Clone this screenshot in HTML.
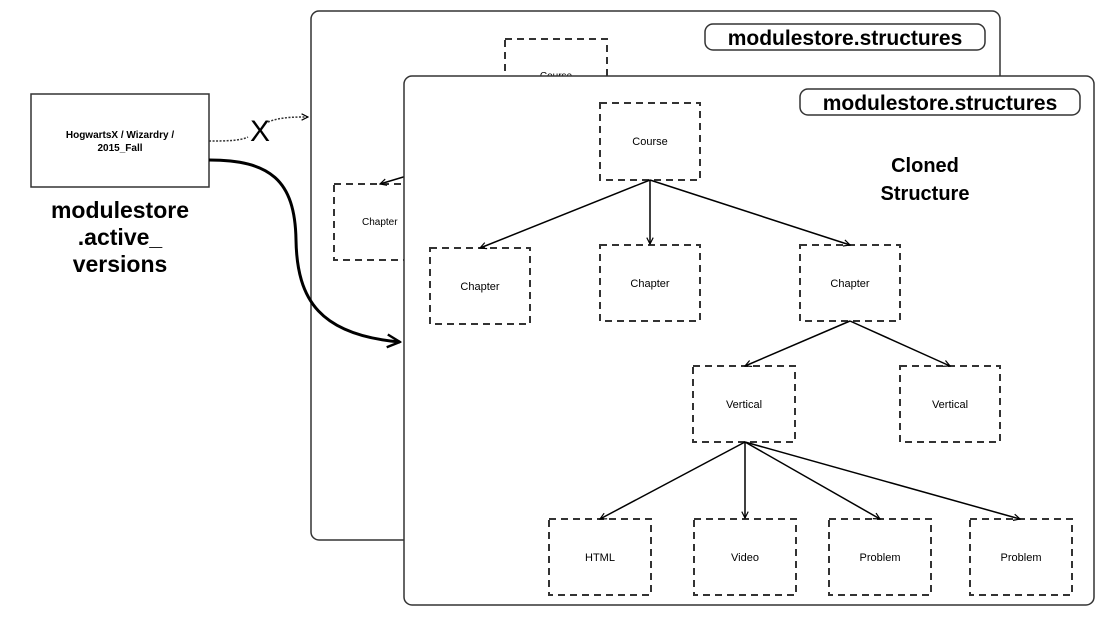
<!DOCTYPE html>
<html><head><meta charset="utf-8"><style>
html,body{margin:0;padding:0;background:#fff}
svg{display:block}
text{font-family:"Liberation Sans",Arial,sans-serif;fill:#000}
</style></head><body>
<svg width="1114" height="626" viewBox="0 0 1114 626" xmlns="http://www.w3.org/2000/svg">
<defs>
<marker id="a" viewBox="0 0 10 10" refX="9" refY="5" markerWidth="8" markerHeight="8" orient="auto" markerUnits="userSpaceOnUse">
<path d="M1,1 L9,5 L1,9" fill="none" stroke="#000" stroke-width="1.5"/></marker>
<marker id="b" viewBox="0 0 10 10" refX="9" refY="5" markerWidth="16" markerHeight="16" orient="auto" markerUnits="userSpaceOnUse">
<path d="M1,1 L9,5 L1,9" fill="none" stroke="#000" stroke-width="1.5"/></marker>
</defs>
<g fill="none" stroke="#333" stroke-width="2" stroke-dasharray="7,5">
<!-- back panel -->
</g>
<rect x="311" y="11" width="689" height="529" rx="8" fill="#fff" stroke="#333" stroke-width="1.5"/>
<rect x="705" y="24" width="280" height="26" rx="8" fill="#fff" stroke="#333" stroke-width="1.5"/>
<text x="845" y="45" font-size="21" font-weight="bold" text-anchor="middle">modulestore.structures</text>
<rect x="505" y="39" width="102" height="76" fill="#fff" stroke="#333" stroke-width="2" stroke-dasharray="7,5"/>
<text x="556" y="79" font-size="10" text-anchor="middle">Course</text>
<rect x="334" y="184" width="102" height="76" fill="#fff" stroke="#333" stroke-width="2" stroke-dasharray="7,5"/>
<text x="362" y="225" font-size="10">Chapter</text>
<line x1="410" y1="175" x2="380" y2="184" stroke="#000" stroke-width="1.5" marker-end="url(#a)"/>
<!-- front panel -->
<rect x="404" y="76" width="690" height="529" rx="8" fill="#fff" stroke="#333" stroke-width="1.5"/>
<rect x="800" y="89" width="280" height="26" rx="8" fill="#fff" stroke="#333" stroke-width="1.5"/>
<text x="940" y="110" font-size="21" font-weight="bold" text-anchor="middle">modulestore.structures</text>
<text x="925" y="172" font-size="20" font-weight="bold" text-anchor="middle">Cloned</text>
<text x="925" y="200" font-size="20" font-weight="bold" text-anchor="middle">Structure</text>
<g fill="#fff" stroke="#333" stroke-width="2" stroke-dasharray="7,5">
<rect x="600" y="103" width="100" height="77"/>
<rect x="430" y="248" width="100" height="76"/>
<rect x="600" y="245" width="100" height="76"/>
<rect x="800" y="245" width="100" height="76"/>
<rect x="693" y="366" width="102" height="76"/>
<rect x="900" y="366" width="100" height="76"/>
<rect x="549" y="519" width="102" height="76"/>
<rect x="694" y="519" width="102" height="76"/>
<rect x="829" y="519" width="102" height="76"/>
<rect x="970" y="519" width="102" height="76"/>
</g>
<g font-size="11" text-anchor="middle">
<text x="650" y="145">Course</text>
<text x="480" y="290">Chapter</text>
<text x="650" y="287">Chapter</text>
<text x="850" y="287">Chapter</text>
<text x="744" y="408">Vertical</text>
<text x="950" y="408">Vertical</text>
<text x="600" y="561">HTML</text>
<text x="745" y="561">Video</text>
<text x="880" y="561">Problem</text>
<text x="1021" y="561">Problem</text>
</g>
<g stroke="#000" stroke-width="1.5" marker-end="url(#a)">
<line x1="650" y1="180" x2="480" y2="248"/>
<line x1="650" y1="180" x2="650" y2="244"/>
<line x1="650" y1="180" x2="850" y2="245"/>
<line x1="850" y1="321" x2="745" y2="366"/>
<line x1="850" y1="321" x2="950" y2="366"/>
<line x1="745" y1="442" x2="600" y2="519"/>
<line x1="745" y1="442" x2="745" y2="518"/>
<line x1="745" y1="442" x2="880" y2="519"/>
<line x1="745" y1="442" x2="1020" y2="519"/>
</g>
<!-- left -->
<rect x="31" y="94" width="178" height="93" fill="#fff" stroke="#333" stroke-width="1.5"/>
<text x="120" y="138" font-size="10" font-weight="bold" text-anchor="middle">HogwartsX / Wizardry /</text>
<text x="120" y="151" font-size="10" font-weight="bold" text-anchor="middle">2015_Fall</text>
<g font-size="23" font-weight="bold" text-anchor="middle">
<text x="120" y="218">modulestore</text>
<text x="120" y="245">.active_</text>
<text x="120" y="272">versions</text>
</g>
<path d="M209,141 C225,141 240,141 248,137" fill="none" stroke="#333" stroke-width="1.5" stroke-dasharray="2,1.5"/>
<path d="M268,122 C280,117 295,117 308,117" fill="none" stroke="#333" stroke-width="1.5" stroke-dasharray="2,1.5" marker-end="url(#a)"/>
<text x="260" y="141" font-size="30" text-anchor="middle">X</text>
<path d="M209,160 C270,160 295,180 296,240 C297,300 320,335 400,342" fill="none" stroke="#000" stroke-width="3" marker-end="url(#b)"/>
</svg>
</body></html>
